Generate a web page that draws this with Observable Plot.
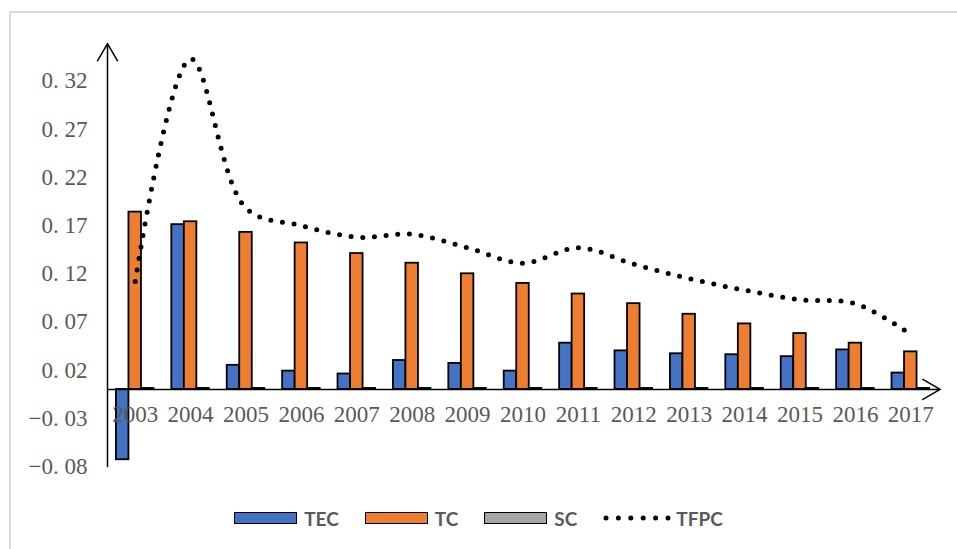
<!DOCTYPE html>
<html>
<head>
<meta charset="utf-8">
<script src="https://cdn.jsdelivr.net/npm/d3@7"></script>
<script src="https://cdn.jsdelivr.net/npm/@observablehq/plot@0.6"></script>
<style>
  html, body { margin: 0; padding: 0; background: #fff; }
  #wrap { position: relative; width: 957px; height: 549px; overflow: hidden; background: #fff; }
  #border { position: absolute; left: 9px; top: 11px; right: -10px; bottom: -10px; border-left: 2px solid #d9d9d9; border-top: 2px solid #d9d9d9; }
  #chart { position: absolute; left: 0; top: 0; }
  #legend { position: absolute; left: 0; top: 505px; width: 957px; height: 26px; display: flex; justify-content: center; align-items: center;
            font-family: Lato, "Open Sans", sans-serif; font-weight: bold; font-size: 19px; color: #595959; }
  .item { display: flex; align-items: center; margin: 0 13px; }
  .sw { width: 61px; height: 10px; border: 1.6px solid #000; margin-right: 7px; }
</style>
</head>
<body>
<div id="wrap">
  <div id="border"></div>
  <div id="chart"></div>
  <div id="legend"></div>
</div>
<script>
const years = [2003, 2004, 2005, 2006, 2007, 2008, 2009, 2010, 2011, 2012, 2013, 2014, 2015, 2016, 2017];
const TEC  = [-0.073, 0.171, 0.025, 0.019, 0.016, 0.030, 0.027, 0.019, 0.048, 0.040, 0.037, 0.036, 0.034, 0.041, 0.017];
const TC   = [0.184, 0.174, 0.163, 0.152, 0.141, 0.131, 0.120, 0.110, 0.099, 0.089, 0.078, 0.068, 0.058, 0.048, 0.039];
const SC   = [0.001, 0.001, 0.001, 0.001, 0.001, 0.001, 0.001, 0.001, 0.001, 0.001, 0.001, 0.001, 0.001, 0.001, 0.001];
const TFPC = [0.112, 0.343, 0.188, 0.170, 0.158, 0.161, 0.147, 0.131, 0.147, 0.130, 0.115, 0.103, 0.093, 0.089, 0.057];

const seriesNames = ["TEC", "TC", "SC"];
const seriesColors = ["#4472C4", "#ED7D31", "#A5A5A5"];
const yTicks = [-0.08, -0.03, 0.02, 0.07, 0.12, 0.17, 0.22, 0.27, 0.32];
const yLabels = ["\u22120. 08", "\u22120. 03", "0. 02", "0. 07", "0. 12", "0. 17", "0. 22", "0. 27", "0. 32"];
const yDomain = [-0.08, 0.359];

// layout of the three bars inside each year's band (fractions of the band)
const barSlots = {TEC: [-0.339, -0.113], TC: [-0.113, 0.113], SC: [0.113, 0.339]};
const seriesValues = {TEC, TC, SC};

const rows = years.flatMap((yr, i) => seriesNames.map(s => ({year: yr, series: s, value: seriesValues[s][i]})));
const tfpcRows = years.map((yr, i) => ({year: yr, value: TFPC[i]}));
const xDomain = [years[0] - 0.5, years[years.length - 1] + 0.5];
const axesLines = [
  {x1: xDomain[0], y1: yDomain[0], x2: xDomain[0], y2: yDomain[1]},
  {x1: xDomain[0], y1: 0, x2: xDomain[1] + 0.03, y2: 0}
];

const serif = "'Liberation Serif', 'DejaVu Serif', serif";

const chart = Plot.plot({
  width: 957,
  height: 495,
  marginLeft: 107,
  marginRight: 19,
  marginTop: 43,
  marginBottom: 29,
  style: {fontFamily: serif, fontSize: "23px", color: "#595959", background: "transparent", overflow: "visible"},
  x: {type: "linear", domain: xDomain, axis: null},
  y: {domain: yDomain},
  color: {domain: seriesNames, range: seriesColors},
  marks: [
    Plot.axisY({
      ticks: yTicks,
      tickFormat: d => yLabels[yTicks.findIndex(t => Math.abs(t - d) < 1e-9)],
      tickSize: 0,
      tickPadding: 20,
      fontSize: 23,
      fontFamily: serif,
      fill: "#595959",
      label: null
    }),
    Plot.rect(rows, {
      x1: d => d.year + barSlots[d.series][0],
      x2: d => d.year + barSlots[d.series][1],
      y1: () => 0,
      y2: "value",
      fill: "series",
      stroke: "black",
      strokeWidth: 1.8
    }),
    Plot.arrow(axesLines, {
      x1: "x1", y1: "y1", x2: "x2", y2: "y2",
      stroke: "black", strokeWidth: 1.5, headLength: 20, headAngle: 60
    }),
    Plot.text(years, {
      x: d => d, y: () => 0, dy: 25, text: d => String(d),
      fontSize: 23, fontFamily: serif, fill: "#595959"
    }),
    Plot.line(tfpcRows, {
      x: "year", y: "value", curve: "catmull-rom",
      stroke: "black", strokeWidth: 5, strokeDasharray: "0 11.7", strokeLinecap: "round"
    })
  ]
});
document.getElementById("chart").appendChild(chart);

// legend
const legend = document.getElementById("legend");
seriesNames.forEach((s, i) => {
  const it = document.createElement("div");
  it.className = "item";
  const sw = document.createElement("div");
  sw.className = "sw";
  sw.style.background = seriesColors[i];
  const tx = document.createElement("span");
  tx.textContent = s;
  it.appendChild(sw); it.appendChild(tx);
  legend.appendChild(it);
});
{
  const it = document.createElement("div");
  it.className = "item";
  it.innerHTML = '<svg width="68" height="14" style="margin-right:5px"><line x1="3" y1="7" x2="65" y2="7" stroke="#000" stroke-width="5" stroke-linecap="round" stroke-dasharray="0 12.4"/></svg><span>TFPC</span>';
  legend.appendChild(it);
}
</script>
</body>
</html>
